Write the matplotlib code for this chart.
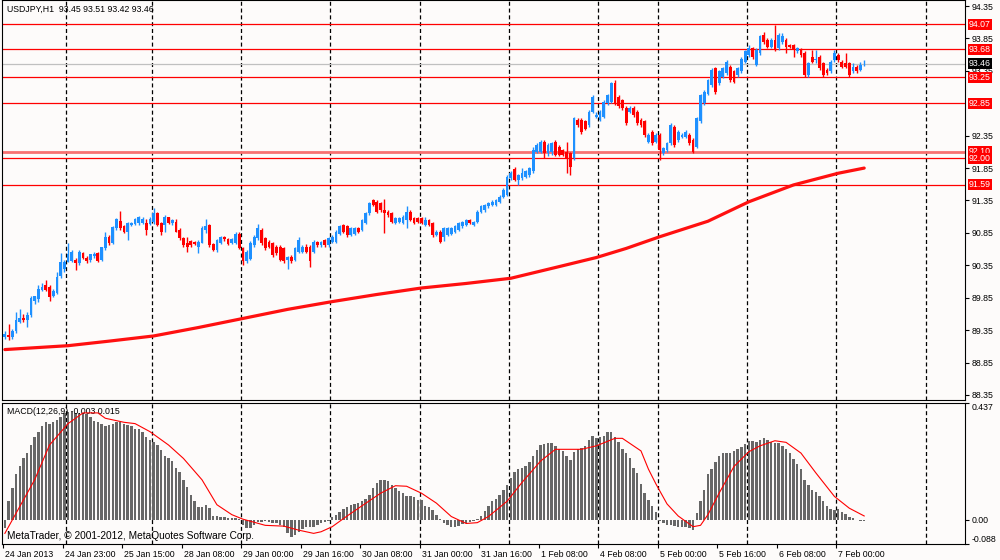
import matplotlib
matplotlib.use('Agg')
import matplotlib.pyplot as plt
from matplotlib.transforms import ScaledTranslation

plt.rcParams['font.family'] = ['Liberation Sans', 'DejaVu Sans']
plt.rcParams['lines.scale_dashes'] = False

# ---- USDJPY H1 candles, bar 0 = 24 Jan 07:00 ... bar 231 = 7 Feb 07:00 ----
OPEN = [
    89.25, 89.27, 89.24, 89.33, 89.48, 89.54, 89.50, 89.58, 89.80, 89.83,
    89.97, 90.05, 90.02, 89.88, 89.92, 90.18, 90.30, 90.40, 90.42, 90.43,
    90.38, 90.54, 90.47, 90.43, 90.49, 90.54, 90.43, 90.62, 90.79, 90.69,
    90.92, 91.04, 90.96, 90.87, 90.97, 90.99, 91.00, 91.00, 91.00, 90.99,
    91.02, 91.15, 91.00, 90.97, 91.09, 91.00, 91.02, 90.89, 90.77, 90.69,
    90.72, 90.71, 90.64, 90.70, 90.90, 90.97, 90.68, 90.58, 90.70, 90.78,
    90.76, 90.70, 90.70, 90.84,
    90.61, 90.41, 90.45, 90.66, 90.77, 90.90, 90.77, 90.71, 90.69, 90.64,
    90.64, 90.61, 90.43, 90.48, 90.43, 90.56, 90.56, 90.64, 90.64, 90.56,
    90.71, 90.66, 90.74, 90.66, 90.71, 90.71, 90.84, 90.97, 90.95, 90.82,
    90.84, 90.92, 90.90, 91.00, 91.15, 91.36, 91.33, 91.31, 91.20, 91.18,
    91.15, 91.00, 91.02, 91.00, 91.05, 91.18, 91.08, 91.08, 91.08, 90.97,
    91.05, 91.00, 90.82, 90.87, 90.79, 90.82, 90.84, 90.87, 90.90, 90.95,
    90.97, 91.05, 90.97, 91.02, 91.18, 91.20, 91.26, 91.28, 91.28, 91.33,
    91.41, 91.44,
    91.70, 91.84, 91.67, 91.69, 91.72, 91.74, 91.80, 92.10, 92.10, 92.26,
    92.08, 92.10, 92.26, 92.18, 92.13, 92.10, 92.08, 92.00, 92.59, 92.59,
    92.57, 92.51, 92.72, 92.64, 92.59, 92.64, 92.85, 92.87, 93.16, 92.95,
    92.90, 92.77, 92.72, 92.77, 92.72, 92.59, 92.57, 92.26, 92.41, 92.26,
    92.36, 92.08, 92.13, 92.23, 92.49, 92.28, 92.33, 92.33, 92.36, 92.28,
    92.18, 92.57, 92.85, 93.00, 93.13,
    93.39, 93.16, 93.26, 93.31, 93.41, 93.34, 93.29, 93.34, 93.49, 93.59,
    93.70, 93.44, 93.62, 93.90, 93.83, 93.72, 93.83, 93.70, 93.80, 93.83,
    93.75, 93.75, 93.65, 93.67, 93.62, 93.29, 93.57, 93.52, 93.57, 93.47,
    93.36, 93.34, 93.52, 93.59, 93.49, 93.47, 93.47, 93.34, 93.41, 93.36,
    93.45,
]
HIGH = [
    89.33, 89.44, 89.36, 89.63, 89.68, 89.60, 89.63, 89.88, 89.88, 90.05,
    90.07, 90.12, 90.05, 89.98, 90.25, 90.54, 90.43, 90.69, 90.58, 90.46,
    90.58, 90.56, 90.50, 90.53, 90.56, 90.56, 90.64, 90.87, 90.81, 90.95,
    91.08, 91.19, 90.97, 91.02, 91.02, 91.08, 91.11, 91.09, 91.07, 91.10,
    91.23, 91.17, 91.02, 91.12, 91.10, 91.06, 91.07, 90.92, 90.78, 90.79,
    90.74, 90.72, 90.74, 90.95, 91.07, 90.99, 90.70, 90.76, 90.80, 90.80,
    90.77, 90.77, 90.86, 90.86,
    90.64, 90.58, 90.72, 90.82, 90.99, 90.93, 90.79, 90.74, 90.71, 90.66,
    90.66, 90.64, 90.50, 90.51, 90.64, 90.79, 90.66, 90.68, 90.66, 90.74,
    90.73, 90.73, 90.76, 90.79, 90.81, 90.89, 90.97, 90.99, 90.97, 90.94,
    90.94, 90.94, 91.07, 91.17, 91.33, 91.38, 91.35, 91.33, 91.38, 91.20,
    91.17, 91.10, 91.10, 91.12, 91.26, 91.20, 91.10, 91.10, 91.10, 91.10,
    91.07, 91.02, 90.89, 90.89, 90.94, 90.94, 90.94, 90.97, 91.02, 91.04,
    91.07, 91.07, 91.04, 91.20, 91.28, 91.30, 91.33, 91.35, 91.38, 91.43,
    91.54, 91.75,
    91.80, 91.86, 91.76, 91.85, 91.82, 91.87, 92.18, 92.23, 92.28, 92.28,
    92.23, 92.26, 92.28, 92.20, 92.15, 92.26, 92.10, 92.64, 92.62, 92.62,
    92.59, 92.75, 92.98, 92.72, 92.75, 92.90, 93.00, 93.18, 93.21, 92.98,
    92.92, 92.80, 92.80, 92.80, 92.75, 92.62, 92.59, 92.39, 92.44, 92.39,
    92.39, 92.18, 92.26, 92.54, 92.51, 92.44, 92.39, 92.44, 92.39, 92.31,
    92.64, 93.00, 93.05, 93.23, 93.40,
    93.41, 93.36, 93.41, 93.52, 93.44, 93.36, 93.41, 93.57, 93.67, 93.75,
    93.72, 93.70, 93.90, 93.95, 93.85, 93.85, 94.06, 93.93, 93.93, 93.85,
    93.77, 93.77, 93.72, 93.70, 93.65, 93.49, 93.67, 93.67, 93.59, 93.49,
    93.39, 93.52, 93.67, 93.62, 93.52, 93.62, 93.49, 93.47, 93.44, 93.49,
    93.51,
]
LOW = [
    89.22, 89.20, 89.21, 89.30, 89.46, 89.47, 89.40, 89.55, 89.76, 89.78,
    89.95, 89.95, 89.80, 89.86, 89.90, 90.16, 90.25, 90.40, 90.40, 90.28,
    90.36, 90.44, 90.38, 90.40, 90.47, 90.40, 90.41, 90.58, 90.66, 90.68,
    90.90, 90.89, 90.85, 90.74, 90.95, 90.97, 90.97, 90.98, 90.82, 90.97,
    90.99, 90.95, 90.82, 90.87, 90.98, 90.97, 90.86, 90.74, 90.64, 90.56,
    90.63, 90.66, 90.54, 90.69, 90.85, 90.64, 90.57, 90.56, 90.68, 90.73,
    90.66, 90.68, 90.68, 90.60,
    90.36, 90.38, 90.43, 90.64, 90.74, 90.66, 90.58, 90.61, 90.48, 90.51,
    90.41, 90.38, 90.30, 90.38, 90.41, 90.54, 90.54, 90.54, 90.33, 90.54,
    90.64, 90.64, 90.64, 90.64, 90.69, 90.69, 90.82, 90.85, 90.79, 90.80,
    90.82, 90.85, 90.88, 90.98, 91.13, 91.26, 91.15, 91.18, 90.85, 91.10,
    91.00, 90.98, 91.00, 90.98, 90.92, 91.03, 90.98, 91.00, 90.98, 90.95,
    90.95, 90.79, 90.80, 90.69, 90.72, 90.80, 90.82, 90.85, 90.88, 90.93,
    90.95, 90.98, 90.95, 91.00, 91.15, 91.18, 91.24, 91.26, 91.26, 91.31,
    91.39, 91.42,
    91.67, 91.65, 91.59, 91.67, 91.70, 91.72, 91.78, 92.08, 92.08, 92.00,
    92.03, 92.05, 92.03, 92.03, 92.03, 91.77, 91.74, 91.98, 92.49, 92.38,
    92.44, 92.49, 92.70, 92.62, 92.57, 92.62, 92.82, 92.85, 92.82, 92.77,
    92.75, 92.52, 92.70, 92.64, 92.52, 92.49, 92.33, 92.23, 92.20, 92.23,
    91.97, 92.05, 92.10, 92.20, 92.18, 92.26, 92.31, 92.31, 92.21, 92.08,
    92.16, 92.54, 92.83, 92.98, 93.10,
    93.00, 93.13, 93.24, 93.29, 93.18, 93.16, 93.26, 93.31, 93.47, 93.57,
    93.54, 93.42, 93.59, 93.77, 93.70, 93.70, 93.65, 93.67, 93.77, 93.62,
    93.70, 93.57, 93.62, 93.57, 93.26, 93.26, 93.47, 93.47, 93.36, 93.26,
    93.29, 93.31, 93.49, 93.49, 93.39, 93.39, 93.26, 93.31, 93.31, 93.34,
    93.42,
]
CLOSE = [
    89.29, 89.24, 89.33, 89.50, 89.53, 89.50, 89.58, 89.84, 89.87, 89.99,
    90.02, 89.97, 89.86, 89.95, 90.17, 90.40, 90.40, 90.53, 90.56, 90.38,
    90.56, 90.46, 90.41, 90.52, 90.53, 90.42, 90.63, 90.79, 90.69, 90.94,
    91.06, 90.92, 90.87, 91.00, 91.00, 91.06, 91.09, 91.07, 90.89, 91.07,
    91.16, 90.97, 90.87, 91.10, 91.00, 91.05, 90.87, 90.77, 90.67, 90.64,
    90.66, 90.68, 90.71, 90.92, 90.95, 90.66, 90.58, 90.74, 90.78, 90.75,
    90.68, 90.76, 90.84, 90.61,
    90.41, 90.56, 90.69, 90.79, 90.92, 90.69, 90.61, 90.64, 90.51, 90.54,
    90.43, 90.41, 90.48, 90.41, 90.61, 90.74, 90.64, 90.56, 90.41, 90.71,
    90.66, 90.71, 90.66, 90.77, 90.79, 90.87, 90.95, 90.87, 90.82, 90.92,
    90.92, 90.87, 91.05, 91.15, 91.31, 91.28, 91.18, 91.20, 91.15, 91.13,
    91.02, 91.08, 91.08, 91.10, 91.18, 91.05, 91.00, 91.02, 91.00, 91.05,
    90.97, 90.82, 90.87, 90.71, 90.92, 90.92, 90.92, 90.95, 91.00, 91.02,
    91.05, 91.00, 91.02, 91.18, 91.26, 91.28, 91.31, 91.33, 91.36, 91.41,
    91.51, 91.72,
    91.78, 91.67, 91.74, 91.77, 91.80, 91.85, 92.13, 92.21, 92.26, 92.08,
    92.21, 92.23, 92.05, 92.05, 92.05, 92.00, 91.87, 92.62, 92.51, 92.41,
    92.46, 92.72, 92.95, 92.67, 92.72, 92.87, 92.98, 93.16, 92.85, 92.80,
    92.77, 92.54, 92.77, 92.67, 92.54, 92.51, 92.36, 92.36, 92.23, 92.36,
    92.13, 92.16, 92.23, 92.51, 92.21, 92.41, 92.36, 92.41, 92.23, 92.10,
    92.62, 92.98, 93.03, 93.21, 93.36,
    93.03, 93.34, 93.39, 93.49, 93.21, 93.18, 93.39, 93.54, 93.65, 93.70,
    93.57, 93.67, 93.88, 93.80, 93.72, 93.83, 93.67, 93.90, 93.88, 93.72,
    93.72, 93.67, 93.70, 93.59, 93.29, 93.47, 93.49, 93.54, 93.39, 93.29,
    93.31, 93.49, 93.62, 93.52, 93.41, 93.41, 93.29, 93.41, 93.34, 93.44,
    93.46,
]

# moving average (thick red), sampled along the bars
MA_BARS = [0, 17, 28, 40, 52, 64, 76, 88, 100, 112, 124, 136, 149, 159,
           167, 176, 189, 200, 212, 224, 231]
MA_VALUES = [89.05, 89.11, 89.18, 89.26, 89.39, 89.53, 89.67, 89.79, 89.90,
             90.00, 90.07, 90.15, 90.33, 90.47, 90.61, 90.79, 91.03, 91.33,
             91.59, 91.77, 91.85]

# horizontal levels
LEVELS = [94.07, 93.68, 93.25, 92.85, 92.00, 91.59]
ZONE_LEVEL = 92.10
BID = 93.46
PRICE_TICKS = [88.35, 88.85, 89.35, 89.85, 90.35, 90.85, 91.35, 91.85,
               92.35, 93.35, 93.85, 94.35]

# MACD(12,26,9) main values (histogram), one per bar
MACD_MAIN = [
    -0.030, 0.070, 0.120, 0.170, 0.200, 0.230, 0.250, 0.280, 0.310, 0.330,
    0.350, 0.365, 0.360, 0.365, 0.375, 0.385, 0.400, 0.405, 0.405, 0.400,
    0.400, 0.400, 0.395, 0.385, 0.370, 0.365, 0.360, 0.350, 0.355, 0.360,
    0.365, 0.365, 0.360, 0.355, 0.350, 0.340, 0.340, 0.330, 0.310, 0.300,
    0.290, 0.280, 0.260, 0.240, 0.230, 0.220, 0.195, 0.180, 0.150, 0.125,
    0.095, 0.070, 0.050, 0.048, 0.057, 0.045, 0.015, 0.015, 0.013, 0.010,
    0.009, 0.006, 0.009, 0.002, -0.020, -0.030, -0.030, -0.020, -0.006, -0.006,
    -0.004, -0.006, -0.010, -0.013, -0.020, -0.025, -0.050, -0.063, -0.057, -0.044,
    -0.035, -0.028, -0.025, -0.025, -0.020, -0.013, -0.006, -0.004, 0.013, 0.019,
    0.030, 0.040, 0.048, 0.057, 0.060, 0.065, 0.070, 0.080, 0.095, 0.120,
    0.140, 0.150, 0.150, 0.145, 0.130, 0.120, 0.110, 0.100, 0.090, 0.090,
    0.085, 0.075, 0.073, 0.053, 0.048, 0.038, 0.019, 0.003, -0.010, -0.019,
    -0.025, -0.025, -0.023, -0.015, -0.010, -0.006, -0.003, 0.002, 0.015, 0.035,
    0.053, 0.070, 0.080, 0.095, 0.113, 0.130, 0.157, 0.180, 0.190, 0.195,
    0.200, 0.215, 0.240, 0.260, 0.280, 0.285, 0.287, 0.287, 0.277, 0.267,
    0.258, 0.240, 0.224, 0.254, 0.264, 0.270, 0.277, 0.300, 0.315, 0.305,
    0.310, 0.315, 0.327, 0.327, 0.310, 0.290, 0.267, 0.250, 0.230, 0.195,
    0.174, 0.135, 0.100, 0.073, 0.053, 0.031, -0.005, -0.013, -0.020, -0.020,
    -0.023, -0.025, -0.025, -0.028, -0.031, -0.038, 0.025, 0.070, 0.113, 0.170,
    0.190, 0.216, 0.240, 0.250, 0.252, 0.252, 0.258, 0.264, 0.274, 0.283,
    0.296, 0.296, 0.290, 0.300, 0.305, 0.300, 0.292, 0.287, 0.287, 0.277,
    0.264, 0.250, 0.226, 0.210, 0.190, 0.150, 0.132, 0.113, 0.103, 0.088,
    0.070, 0.053, 0.040, 0.038, 0.040, 0.028, 0.023, 0.013, 0.006, 0.001,
    -0.002, -0.003,
]
# signal line, sampled along the bars
SIGNAL_BARS = [0, 3, 8, 12, 17, 21, 25, 27, 32, 35, 39, 44, 48, 53, 57, 61,
               64, 70, 75, 79, 83, 85, 88, 92, 96, 101, 105, 108, 112, 116,
               120, 124, 127, 130, 135, 139, 144, 148, 152, 155, 159, 164,
               166, 171, 173, 175, 178, 181, 185, 187, 189, 192, 196, 200,
               203, 207, 210, 214, 218, 223, 227, 231]
SIGNAL_VALUES = [-0.050, 0.025, 0.150, 0.280, 0.360, 0.400, 0.400, 0.380,
                 0.365, 0.360, 0.330, 0.280, 0.230, 0.150, 0.057, 0.020,
                 0.003, -0.020, -0.023, -0.038, -0.050, -0.044, -0.025,
                 0.015, 0.053, 0.100, 0.128, 0.126, 0.100, 0.063, 0.013,
                 -0.013, -0.010, 0.013, 0.070, 0.140, 0.220, 0.264, 0.264,
                 0.264, 0.277, 0.305, 0.305, 0.258, 0.190, 0.135, 0.060,
                 0.015, -0.025, -0.020, 0.020, 0.100, 0.200, 0.255, 0.277,
                 0.296, 0.290, 0.250, 0.176, 0.088, 0.044, 0.015]

# day starts (dashed separators) and time labels
DAY_STARTS = [17, 40, 64, 88, 112, 136, 160, 176, 200, 224, 248]
LABEL_BARS = [0, 16, 32, 48, 64, 80, 96, 112, 128, 144, 160, 176, 192, 208, 224]
TIME_LABELS = ['24 Jan 2013', '24 Jan 23:00', '25 Jan 15:00', '28 Jan 08:00',
               '29 Jan 00:00', '29 Jan 16:00', '30 Jan 08:00', '31 Jan 00:00',
               '31 Jan 16:00', '1 Feb 08:00', '4 Feb 08:00', '5 Feb 00:00',
               '5 Feb 16:00', '6 Feb 08:00', '7 Feb 00:00']

BG = '#fdfbfa'
BULL = '#1e90ff'
BEAR = '#ff0000'
FS = 6.3
GRID_DASH = (0, (2.9, 2.0))

fig = plt.figure(figsize=(10, 5.6), dpi=100, facecolor=BG)
ax = fig.add_axes([0.002, 160 / 560, 0.963, 400 / 560], facecolor=BG)
axm = fig.add_axes([0.002, 16 / 560, 0.963, 141 / 560], facecolor=BG)

# --- price panel ---
bars = list(range(len(CLOSE)))
colors = [BULL if c >= o else BEAR for o, c in zip(OPEN, CLOSE)]
ax.vlines(bars, LOW, HIGH, colors=colors, lw=1.0, zorder=3)
bottoms = [min(o, c) for o, c in zip(OPEN, CLOSE)]
heights = [max(abs(c - o), 0.012) for o, c in zip(OPEN, CLOSE)]
ax.bar(bars, heights, bottom=bottoms, width=0.75, color=colors, lw=0, zorder=4)

ax.plot(MA_BARS, MA_VALUES, color='#ff1010', lw=2.3, zorder=5,
        solid_capstyle='round', solid_joinstyle='round')

for lv in LEVELS:
    ax.axhline(lv, color='red', lw=0.9, zorder=2)
ax.axhline(ZONE_LEVEL, color='#f87070', lw=2.0, zorder=2)
ax.axhline(BID, color='#c0c0c0', lw=0.9, zorder=2)

for b in DAY_STARTS:
    ax.axvline(b - 0.5, color='black', lw=0.9, ls=GRID_DASH, zorder=1)
    axm.axvline(b - 0.5, color='black', lw=0.9, ls=GRID_DASH, zorder=1)

ax.set_xlim(-0.77, 258.1)
ax.set_ylim(88.272, 94.443)
ax.yaxis.tick_right()
ax.set_yticks(PRICE_TICKS)
ax.set_yticklabels([f'{t:.2f}' for t in PRICE_TICKS])
ax.tick_params(axis='y', length=3, width=0.8, pad=2, labelsize=FS,
               direction='out')
ax.tick_params(axis='x', bottom=False, labelbottom=False)

# level boxes on the price scale
box_x = 1.0042
for lv in [ZONE_LEVEL] + LEVELS:
    ax.text(box_x, lv, f'{lv:.2f}', transform=ax.get_yaxis_transform(),
            color='white', fontsize=FS, va='center', ha='left', zorder=6,
            bbox=dict(boxstyle='square,pad=0.12', fc='red', ec='none'))
ax.text(box_x, BID, f'{BID:.2f}', transform=ax.get_yaxis_transform(),
        color='white', fontsize=FS, va='center', ha='left', zorder=7,
        bbox=dict(boxstyle='square,pad=0.12', fc='black', ec='none'))

ax.text(0.005, 1 - 9 / 400, 'USDJPY,H1  93.45 93.51 93.42 93.46',
        transform=ax.transAxes, fontsize=FS, va='center', ha='left')

# --- MACD panel ---
axm.bar(bars, MACD_MAIN, width=0.65, color='#676767', lw=0, zorder=3)
axm.plot(SIGNAL_BARS, SIGNAL_VALUES, color='red', lw=0.8, zorder=4)
axm.set_xlim(-0.77, 258.1)
axm.set_ylim(-0.0897, 0.437)
axm.yaxis.tick_right()
axm.set_yticks([0.437, 0.0, -0.088])
axm.set_yticklabels(['0.437', '0.00', '-0.088'])
ylabs = axm.get_yticklabels()
ylabs[0].set_va('top')
ylabs[-1].set_va('bottom')
axm.tick_params(axis='y', length=3, width=0.8, pad=2, labelsize=FS,
                direction='out')

axm.set_xticks([b - 0.5 for b in LABEL_BARS])
axm.set_xticklabels(TIME_LABELS, ha='left')
axm.tick_params(axis='x', length=3, width=0.8, pad=1, labelsize=FS,
                direction='out')
shift = ScaledTranslation(2 / 100, 0, fig.dpi_scale_trans)
for lab in axm.get_xticklabels():
    lab.set_transform(lab.get_transform() + shift)

axm.text(0.005, 1 - 9 / 141, 'MACD(12,26,9) -0.003 0.015',
         transform=axm.transAxes, fontsize=FS, va='center', ha='left')
axm.text(0.005, 8 / 141, 'MetaTrader, \u00a9 2001-2012, MetaQuotes Software Corp.',
         transform=axm.transAxes, fontsize=7.3, va='center', ha='left', zorder=6)

for a in (ax, axm):
    for sp in a.spines.values():
        sp.set_color('black')
        sp.set_linewidth(0.8)

fig.savefig('out.png', dpi=100, facecolor=BG)
